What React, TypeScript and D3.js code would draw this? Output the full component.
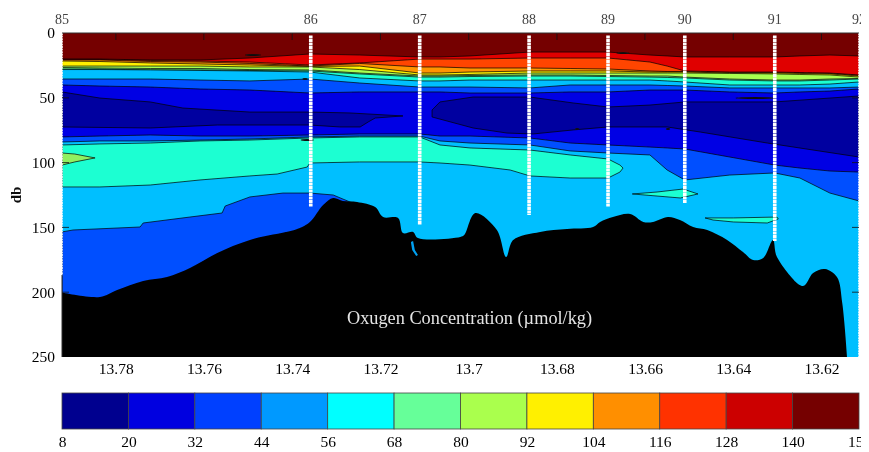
import React, { useEffect, useRef } from 'react';
import * as d3 from 'd3';

const width = 869;
const height = 452;

// longitude columns used by the contour boundaries below
const gridLon = [13.7922, 13.7836, 13.7722, 13.7609, 13.7496, 13.736, 13.7247, 13.7111, 13.7065, 13.6997, 13.6861, 13.677, 13.6684, 13.6589, 13.655, 13.651, 13.6408, 13.6306, 13.6249, 13.6181, 13.6115];

// depth (db) of each contour at gridLon, top to bottom
const depth140 = [20.1, 20.1, 20.8, 20.8, 19.3, 16.2, 17, 18.5, 18.5, 17.7, 14.7, 14.7, 14.7, 17, 17.7, 18.5, 18.5, 18.5, 17.7, 17, 17.7];
const depth128 = [20.4, 20.4, 21.2, 21.6, 22.4, 24.7, 23.1, 20.1, 20.1, 20.1, 19.3, 19.3, 19.3, 22.4, 25.5, 29.3, 30.1, 30.1, 30.5, 30.9, 32.4];
const depth116 = [20.8, 20.8, 22, 22.4, 23.5, 25.5, 23.5, 26.2, 26.2, 27, 27, 27.4, 27.8, 29.3, 29.7, 29.7, 30.5, 30.5, 30.9, 31.2, 32.8];
const depth104 = [21.6, 22, 23.1, 23.9, 24.7, 25.8, 25.5, 30.9, 30.9, 30.1, 29.3, 29.3, 29.3, 30.1, 30.1, 30.1, 30.9, 30.9, 31.2, 31.6, 33.2];
const depth92 = [25.5, 25.5, 25.5, 25.5, 26.2, 26.2, 28.2, 32.4, 32.4, 32, 30.9, 30.9, 30.9, 30.9, 30.9, 30.9, 31.2, 31.6, 32, 32.4, 34];
const depth80 = [26.6, 27, 27.4, 27.4, 28.2, 28.5, 30.9, 33.2, 33.2, 32.8, 32.4, 32.4, 32.8, 33.2, 33.2, 34, 35.5, 36.3, 36.3, 35.5, 35.1];
const depth68 = [27.8, 27.8, 28.5, 28.5, 28.9, 29.3, 31.6, 34, 34, 33.6, 33.2, 33.2, 33.6, 34, 34.3, 34.7, 36.3, 37, 37, 36.3, 35.5];
const depth56 = [28.2, 28.2, 28.5, 28.9, 29.3, 30.1, 34.7, 37, 37, 36.3, 36.3, 36.3, 36.3, 36.3, 37, 37.8, 40.1, 40.1, 40.1, 39.4, 37.8];
const depth44 = [35.5, 35.5, 35.5, 36.3, 37, 35.5, 38.6, 41.7, 41.7, 41.7, 42.4, 40.1, 40.1, 40.1, 40.5, 40.9, 42.4, 42.4, 42.4, 42.4, 41.7];
const depth32 = [40.1, 40.9, 41.7, 43.2, 44, 46.3, 45.5, 45.5, 45.5, 46.3, 46.3, 45.5, 45.5, 44, 44, 44, 45.5, 46.3, 45.5, 44.8, 43.2];
// deeper water, oxygen rising again
const depth32Low = [80.2, 79.5, 78.7, 79.5, 79.5, 78.7, 77.9, 77.9, 79.5, 79.5, 81, 84.9, 86.4, 88, 88.7, 89.5, 95.7, 101.9, 104.2, 106.5, 107.3];
const depth44Low = [84.1, 83.3, 83.3, 82.6, 81.8, 80.2, 79.5, 79.5, 83.3, 84.9, 86.4, 91, 92.6, 94.1, 105.7, 113.4, 109.6, 108, 111.9, 123.5, 129.6];

const bandColors = ['#e00000', '#ff4400', '#ff9400', '#fff000', '#a8ff50', '#66ff90', '#1effd2', '#00bfff', '#0050ff', '#0000e4', '#0050ff', '#00bfff'];
const bandDepths = [depth140, depth128, depth116, depth104, depth92, depth80, depth68, depth56, depth44, depth32, depth32Low, depth44Low];

// closed contour patches, [longitude, db]
const navyLeft = [[13.7922, 45.5], [13.7836, 50.2], [13.7722, 53.2], [13.7648, 57.9], [13.7496, 61], [13.736, 61], [13.7269, 61.7], [13.7149, 64], [13.7212, 65.6], [13.7228, 68.7], [13.7246, 72.5], [13.7292, 72.5], [13.736, 71], [13.757, 71], [13.7722, 73.3], [13.7922, 72.5]];
const navyRight = [[13.6115, 48.6], [13.6306, 53.2], [13.6509, 53.2], [13.6589, 55.6], [13.6684, 57.1], [13.6763, 54], [13.6861, 49.4], [13.699, 49.4], [13.7065, 53.2], [13.7083, 59.4], [13.7083, 64.8], [13.699, 73.3], [13.6913, 77.2], [13.6854, 77.9], [13.6763, 74.8], [13.6684, 72.5], [13.655, 72.5], [13.6475, 76.4], [13.6323, 84.9], [13.6115, 95.7]];
const aquaBody = [[13.7922, 86.4], [13.7836, 85.6], [13.7722, 84.9], [13.7609, 83.3], [13.7496, 82.6], [13.736, 81], [13.7247, 80.2], [13.7111, 80.2], [13.7065, 86.4], [13.6997, 88.7], [13.6861, 90.3], [13.677, 94.1], [13.6684, 97.2], [13.6657, 101.9], [13.665, 104.2], [13.6657, 107.3], [13.6684, 111.9], [13.677, 111.9], [13.6861, 110.3], [13.6906, 105.7], [13.6997, 101.9], [13.7065, 100.3], [13.7111, 99.5], [13.7247, 99.5], [13.736, 100.3], [13.7366, 103.4], [13.7434, 108.8], [13.7496, 110.3], [13.7609, 113.4], [13.7722, 117.3], [13.7836, 118.8], [13.7922, 118.8]];
const greenSpot = [[13.7922, 92.6], [13.7893, 93.4], [13.7847, 96.4], [13.7893, 99.5], [13.7922, 101.9]];
const aquaLensA = [[13.6629, 124.2], [13.6573, 122.7], [13.6514, 120.4], [13.648, 124.2], [13.652, 127.3], [13.6573, 125.8]];
const aquaLensB = [[13.6464, 142.7], [13.64, 142.7], [13.6301, 142], [13.6298, 143.5], [13.6323, 146.6], [13.64, 145.8], [13.6446, 144.3]];
const deepBlue = [[13.7922, 153.5], [13.7897, 152], [13.7745, 149.7], [13.7738, 146.6], [13.7632, 142], [13.7559, 138.9], [13.7552, 133.5], [13.7496, 126.5], [13.7421, 123.5], [13.736, 123.5], [13.7307, 125], [13.7269, 130.4], [13.7251, 132], [13.7292, 160], [13.75, 250], [13.7922, 250]];
const slit = [[13.7131, 161.3], [13.7126, 160.5], [13.7122, 167.4], [13.7115, 171.3], [13.7119, 172], [13.7128, 167.4]];

// little closed contours that print as dark specks
const speckLon = [13.7489, 13.7371, 13.7366, 13.6754, 13.6548, 13.635, 13.665];
const speckDb = [17, 35.5, 82.6, 74, 74, 50.2, 15.5];
const speckSpan = [0.0018, 0.0006, 0.0015, 0.0005, 0.0005, 0.0045, 0.0015];

// sea floor
const floorLon = [13.7922, 13.7836, 13.7797, 13.7738, 13.7684, 13.7632, 13.757, 13.7496, 13.7389, 13.736, 13.733, 13.7307, 13.7285, 13.7253, 13.7212, 13.7194, 13.716, 13.7149, 13.7126, 13.7115, 13.7019, 13.701, 13.6985, 13.6936, 13.6915, 13.6899, 13.6838, 13.6777, 13.6718, 13.6702, 13.6673, 13.6634, 13.6604, 13.6582, 13.6548, 13.6521, 13.6491, 13.6459, 13.6414, 13.6378, 13.6355, 13.6332, 13.631, 13.6301, 13.6242, 13.6219, 13.6192, 13.6165, 13.6153, 13.6142];
const floorDb = [200.3, 203.7, 198.3, 191.4, 188.3, 181.3, 169.7, 159.7, 151.2, 145.8, 132.7, 127.3, 129.6, 130.4, 134.3, 142, 142.7, 154.3, 153.5, 158.2, 157.4, 155.9, 138.9, 152, 172.8, 159.7, 153.5, 151.2, 149.7, 145.8, 142, 139.7, 145.8, 145.8, 142, 144.3, 149.7, 152, 159.7, 169, 175.2, 173.6, 159.7, 172.8, 195.2, 185.2, 182.1, 188.3, 208.3, 250];

// CTD stations
const stationNames = ['85', '86', '87', '88', '89', '90', '91', '92'];
const stationLon = [13.7922, 13.7358, 13.7111, 13.6863, 13.6684, 13.651, 13.6306, 13.6115];
const stationEnd = [187, 134.3, 148.1, 140.4, 134.3, 131.2, 160.5, 250];

const lonTicks = [13.78, 13.76, 13.74, 13.72, 13.7, 13.68, 13.66, 13.64, 13.62];
const dbTicks = [0, 50, 100, 150, 200, 250];

const barLevels = [8, 20, 32, 44, 56, 68, 80, 92, 104, 116, 128, 140, 152];
const barColors = ['#00008f', '#0000e0', '#0040ff', '#0099ff', '#00ffff', '#66ff99', '#aaff4d', '#fff000', '#ff8f00', '#ff3300', '#cc0000', '#750000'];

const serif = '"Liberation Serif", serif';

const App = () => {
    const ref = useRef<SVGSVGElement>(null);

    useEffect(() => {
        const svg = d3.select(ref.current);
        svg.selectAll('*').remove();

        const x = d3.scaleLinear().domain([13.7922, 13.6115]).range([62, 859]);
        const y = d3.scaleLinear().domain([0, 250]).range([33, 357]);
        const barX = d3.scaleLinear().domain([8, 152]).range([62, 859]);

        const defs = svg.append('defs');
        defs.append('clipPath').attr('id', 'plot')
            .append('rect').attr('x', 62).attr('y', 33).attr('width', 797).attr('height', 324);
        // the source picture is cut off just past the right edge of the plot
        defs.append('clipPath').attr('id', 'page')
            .append('rect').attr('x', 0).attr('y', 0).attr('width', 861).attr('height', height);
        defs.append('filter').attr('id', 'soft')
            .append('feGaussianBlur').attr('stdDeviation', 0.45);

        const root = svg.append('g').attr('clip-path', 'url(#page)').attr('filter', 'url(#soft)');
        const plot = root.append('g').attr('clip-path', 'url(#plot)');

        plot.append('rect').attr('x', 62).attr('y', 33).attr('width', 797).attr('height', 324).attr('fill', '#750000');

        // painter's order: each contour fills everything below it
        const area = d3.area<number>()
            .x((_, i) => x(gridLon[i]))
            .y0(357)
            .y1((d) => y(d));
        const line = d3.line<number>()
            .x((_, i) => x(gridLon[i]))
            .y((d) => y(d));

        bandDepths.forEach((depths, i) => {
            plot.append('path').attr('d', area(depths)).attr('fill', bandColors[i]);
            plot.append('path').attr('d', line(depths)).attr('fill', 'none').attr('stroke', '#000').attr('stroke-width', 0.7);
        });

        const patch = d3.line<number[]>()
            .x((d) => x(d[0]))
            .y((d) => y(d[1]))
            .curve(d3.curveLinearClosed);
        const drawPatch = (points: number[][], color: string) => {
            plot.append('path').attr('d', patch(points)).attr('fill', color)
                .attr('stroke', '#000').attr('stroke-width', 0.7);
        };
        drawPatch(navyLeft, '#0000a0');
        drawPatch(navyRight, '#0000a0');
        drawPatch(aquaBody, '#1effd2');
        drawPatch(greenSpot, '#90f060');
        drawPatch(aquaLensA, '#1effd2');
        drawPatch(aquaLensB, '#1effd2');
        drawPatch(deepBlue, '#0050ff');

        speckLon.forEach((lon, i) => {
            plot.append('ellipse')
                .attr('cx', x(lon)).attr('cy', y(speckDb[i]))
                .attr('rx', Math.abs(x(lon + speckSpan[i]) - x(lon))).attr('ry', 1)
                .attr('fill', '#111');
        });

        // sea floor
        const floor = d3.area<number>()
            .x((_, i) => x(floorLon[i]))
            .y0(357)
            .y1((d) => y(d))
            .curve(d3.curveCatmullRom.alpha(0.5));
        plot.append('path').attr('d', floor(floorDb)).attr('fill', '#000');
        plot.append('path').attr('d', patch(slit)).attr('fill', '#00a0f0');

        // station casts
        stationLon.forEach((lon, i) => {
            const edge = i === 0 || i === stationLon.length - 1;
            root.append('line')
                .attr('x1', x(lon)).attr('x2', x(lon))
                .attr('y1', y(edge ? 0 : 2)).attr('y2', y(stationEnd[i]))
                .attr('stroke', '#fff')
                .attr('stroke-width', edge ? 1.6 : 3.6)
                .attr('stroke-dasharray', edge ? '2 0.6' : '3 0.5');
            root.append('text')
                .attr('x', x(lon)).attr('y', 24)
                .attr('text-anchor', 'middle')
                .attr('font-family', serif).attr('font-size', 14)
                .attr('fill', '#444')
                .text(stationNames[i]);
        });

        // axes
        const xAxis = d3.axisBottom(x).tickValues(lonTicks).tickSize(0).tickPadding(0)
            .tickFormat((d) => String(+d));
        const xGroup = root.append('g').attr('transform', 'translate(0,357)').call(xAxis);
        xGroup.select('.domain').remove();
        xGroup.selectAll('text').attr('y', 17).attr('dy', 0)
            .attr('font-family', serif).attr('font-size', 15.5).attr('fill', '#000');

        const yAxis = d3.axisLeft(y).tickValues(dbTicks).tickSize(0).tickPadding(0);
        const yGroup = root.append('g').attr('transform', 'translate(62,0)').call(yAxis);
        yGroup.select('.domain').remove();
        yGroup.selectAll('text').attr('x', -7).attr('dy', '0.32em')
            .attr('font-family', serif).attr('font-size', 15.5).attr('fill', '#000');

        // inward ticks on the frame
        const frame = root.append('g').attr('stroke', '#111').attr('stroke-width', 0.8);
        lonTicks.forEach((t) => {
            frame.append('line').attr('x1', x(t)).attr('x2', x(t)).attr('y1', 33).attr('y2', 40);
        });
        dbTicks.slice(1, 5).forEach((t) => {
            frame.append('line').attr('x1', 62).attr('x2', 69).attr('y1', y(t)).attr('y2', y(t));
            frame.append('line').attr('x1', 852).attr('x2', 859).attr('y1', y(t)).attr('y2', y(t));
        });
        root.append('line').attr('x1', 62).attr('x2', 859).attr('y1', 33).attr('y2', 33)
            .attr('stroke', '#333').attr('stroke-width', 1);
        root.append('line').attr('x1', 62).attr('x2', 62).attr('y1', 275).attr('y2', 357)
            .attr('stroke', '#333').attr('stroke-width', 1);

        root.append('text')
            .attr('transform', 'translate(21,195) rotate(-90)')
            .attr('text-anchor', 'middle')
            .attr('font-family', serif).attr('font-size', 15).attr('font-weight', 'bold')
            .attr('fill', '#111')
            .text('db');

        root.append('text')
            .attr('x', 469.5).attr('y', 324)
            .attr('text-anchor', 'middle')
            .attr('font-family', serif).attr('font-size', 18.3)
            .attr('fill', '#e4e4e4')
            .text('Oxugen Concentration (µmol/kg)');

        // colour bar
        const bar = root.append('g');
        bar.selectAll('rect')
            .data(barColors)
            .join('rect')
            .attr('x', (_, i) => barX(barLevels[i]))
            .attr('y', 393)
            .attr('width', (_, i) => barX(barLevels[i + 1]) - barX(barLevels[i]))
            .attr('height', 36)
            .attr('fill', (d) => d)
            .attr('stroke', '#444')
            .attr('stroke-width', 0.8);

        const barAxis = d3.axisBottom(barX).tickValues(barLevels).tickSize(0).tickPadding(0);
        const barGroup = root.append('g').attr('transform', 'translate(0,429)').call(barAxis);
        barGroup.select('.domain').remove();
        barGroup.selectAll('text').attr('y', 18).attr('dy', 0)
            .attr('font-family', serif).attr('font-size', 15.5).attr('fill', '#000');
    }, []);

    return (
        <svg
            ref={ref}
            width={width}
            height={height}
            style={{ position: 'absolute', left: 0, top: 0, background: '#fff' }}
        />
    );
};

export default App;
